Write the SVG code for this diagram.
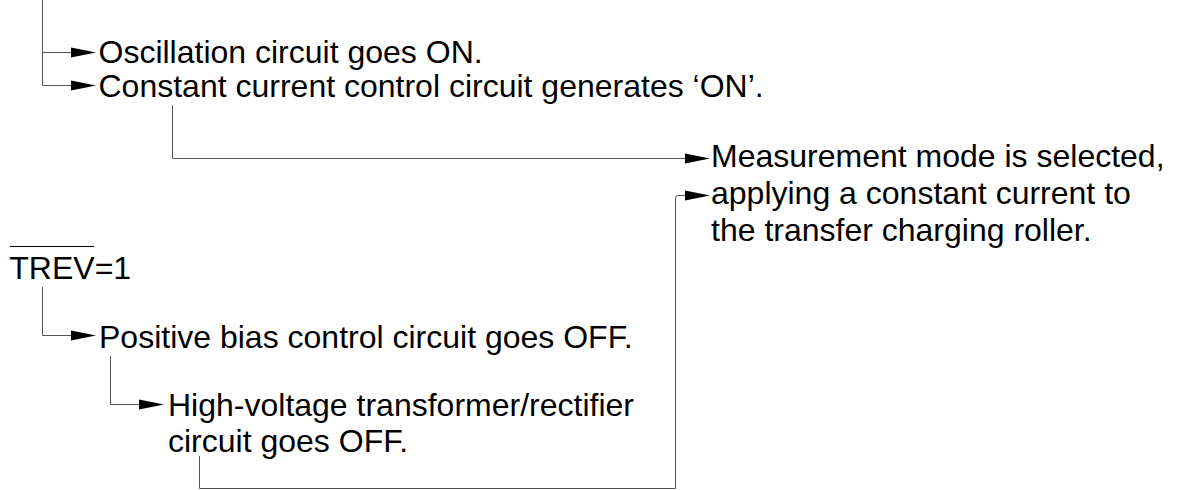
<svg xmlns="http://www.w3.org/2000/svg" width="1178" height="490" viewBox="0 0 1178 490">
  <style>
    .t { font-family: "Liberation Sans", Arial, sans-serif; font-size: 32px; fill: #000; }
    .c { fill: none; stroke: #555; stroke-width: 1; }
    .ah { fill: #000; stroke: none; }
  </style>
  <defs>
    <polygon id="arrow" points="0,0 -25,-5 -25,5" class="ah"/>
  </defs>
  <rect width="1178" height="490" fill="#fff"/>

  <g id="connectors">
    <path class="c" d="M42.5,0 V85.5 H72"/>
    <path class="c" d="M42.5,52.5 H72"/>
    <path class="c" d="M172.5,105 V158.5 H687"/>
    <path class="c" d="M42.5,287 V335.5 H72"/>
    <path class="c" d="M110.5,356 V404.5 H141"/>
    <path class="c" d="M199.5,456 V488.5 H675.5 V198 Q675.5,195.5 678,195.5 H687"/>
    <use href="#arrow" x="96" y="52.5"/>
    <use href="#arrow" x="96" y="85.5"/>
    <use href="#arrow" x="710" y="158.5"/>
    <use href="#arrow" x="710" y="195.5"/>
    <use href="#arrow" x="96" y="335.5"/>
    <use href="#arrow" x="164" y="404.5"/>
  </g>

  <g id="node-oscillation">
    <text class="t" x="98.5" y="62.5">Oscillation circuit goes ON.</text>
  </g>
  <g id="node-constant-current">
    <text class="t" x="98.5" y="96.5">Constant current control circuit generates ‘ON’.</text>
  </g>
  <g id="node-measurement">
    <text class="t" x="711" y="166.5">Measurement mode is selected,</text>
    <text class="t" x="711" y="204">applying a constant current to</text>
    <text class="t" x="711" y="241">the transfer charging roller.</text>
  </g>
  <g id="node-trev">
    <text class="t" x="9.3" y="278.5">TREV=1</text>
    <line x1="10" y1="246.5" x2="94" y2="246.5" stroke="#000" stroke-width="1"/>
  </g>
  <g id="node-positive-bias">
    <text class="t" x="99" y="347.5">Positive bias control circuit goes OFF.</text>
  </g>
  <g id="node-high-voltage">
    <text class="t" x="168" y="416">High-voltage transformer/rectifier</text>
    <text class="t" x="168" y="452">circuit goes OFF.</text>
  </g>
</svg>
